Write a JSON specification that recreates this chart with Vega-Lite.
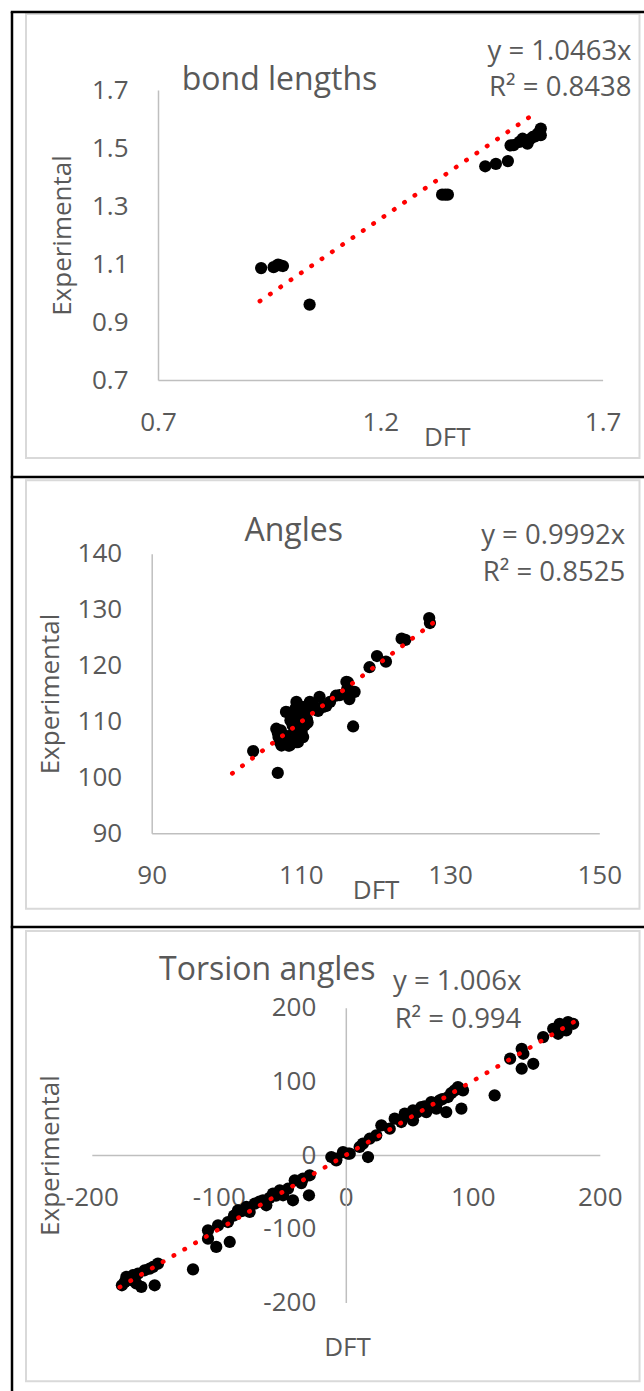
{
  "$schema": "https://vega.github.io/schema/vega-lite/v6.json",
  "background": "white",
  "padding": {"left": 9, "top": 10, "right": 0, "bottom": 0},
  "spacing": 0,
  "bounds": "flush",
  "config": {
    "font": "Open Sans",
    "view": {"stroke": null},
    "axis": {
      "domainColor": "#bfbfbf", "domainWidth": 1.5, "ticks": false, "grid": false,
      "labelColor": "#595959", "labelFontSize": 26, "labelFont": "Open Sans",
      "titleFont": "Open Sans", "titleFontSize": 26, "titleColor": "#595959", "titleFontWeight": "normal",
      "labelFlush": false, "labelOverlap": false, "labelBound": false, "labelPadding": 29
    },
    "title": {"font": "Open Sans", "fontSize": 32, "fontWeight": "normal", "color": "#595959", "anchor": "start", "frame": "group", "offset": 0, "baseline": "alphabetic"}
  },
  "datasets": {
    "p1": [
      {"dft": 0.932, "exp": 1.086}, {"dft": 0.960, "exp": 1.089}, {"dft": 0.970, "exp": 1.098},
      {"dft": 0.975, "exp": 1.095}, {"dft": 0.981, "exp": 1.093}, {"dft": 1.041, "exp": 0.960},
      {"dft": 1.339, "exp": 1.339}, {"dft": 1.346, "exp": 1.339}, {"dft": 1.352, "exp": 1.339},
      {"dft": 1.436, "exp": 1.437}, {"dft": 1.460, "exp": 1.445}, {"dft": 1.487, "exp": 1.455},
      {"dft": 1.493, "exp": 1.509}, {"dft": 1.500, "exp": 1.510}, {"dft": 1.513, "exp": 1.521},
      {"dft": 1.520, "exp": 1.532}, {"dft": 1.531, "exp": 1.515}, {"dft": 1.536, "exp": 1.530},
      {"dft": 1.543, "exp": 1.538}, {"dft": 1.548, "exp": 1.540}, {"dft": 1.554, "exp": 1.549},
      {"dft": 1.558, "exp": 1.555}, {"dft": 1.561, "exp": 1.567}, {"dft": 1.561, "exp": 1.544}
    ],
    "t1": [{"dft": 0.929, "exp": 0.972}, {"dft": 1.556, "exp": 1.628}],
    "p2": [
      {"dft": 103.6, "exp": 104.7}, {"dft": 106.9, "exp": 100.8}, {"dft": 117.0, "exp": 109.1},
      {"dft": 106.7, "exp": 108.7}, {"dft": 106.9, "exp": 108.0}, {"dft": 107.2, "exp": 106.3},
      {"dft": 107.4, "exp": 105.7}, {"dft": 107.8, "exp": 107.5}, {"dft": 108.0, "exp": 111.7},
      {"dft": 108.3, "exp": 105.7}, {"dft": 108.3, "exp": 111.6}, {"dft": 108.5, "exp": 105.7},
      {"dft": 108.9, "exp": 109.3}, {"dft": 109.0, "exp": 107.0}, {"dft": 109.4, "exp": 113.5},
      {"dft": 109.4, "exp": 106.3}, {"dft": 109.6, "exp": 106.3}, {"dft": 109.6, "exp": 111.4},
      {"dft": 109.8, "exp": 111.1}, {"dft": 110.1, "exp": 108.1}, {"dft": 110.5, "exp": 109.3},
      {"dft": 110.5, "exp": 111.1}, {"dft": 111.2, "exp": 113.5}, {"dft": 112.3, "exp": 111.9},
      {"dft": 112.5, "exp": 114.4}, {"dft": 113.0, "exp": 112.6}, {"dft": 113.4, "exp": 112.8},
      {"dft": 113.9, "exp": 113.5}, {"dft": 114.7, "exp": 114.6}, {"dft": 115.2, "exp": 114.7},
      {"dft": 116.1, "exp": 117.1}, {"dft": 116.3, "exp": 117.0}, {"dft": 116.5, "exp": 114.0},
      {"dft": 116.5, "exp": 114.7}, {"dft": 116.8, "exp": 115.2}, {"dft": 117.2, "exp": 115.3},
      {"dft": 119.2, "exp": 119.7}, {"dft": 120.2, "exp": 121.7}, {"dft": 121.4, "exp": 120.7},
      {"dft": 123.5, "exp": 124.8}, {"dft": 124.0, "exp": 124.6}, {"dft": 127.2, "exp": 128.5},
      {"dft": 127.3, "exp": 127.6}, {"dft": 107.6, "exp": 106.8}, {"dft": 108.8, "exp": 107.6},
      {"dft": 109.9, "exp": 110.0}, {"dft": 110.8, "exp": 110.4}, {"dft": 111.0, "exp": 112.2},
      {"dft": 110.2, "exp": 112.6}, {"dft": 108.6, "exp": 110.2}, {"dft": 107.3, "exp": 108.4},
      {"dft": 107.0, "exp": 107.2}, {"dft": 108.1, "exp": 106.6}, {"dft": 109.2, "exp": 108.3},
      {"dft": 110.3, "exp": 107.2}, {"dft": 109.3, "exp": 112.4}, {"dft": 111.7, "exp": 112.9},
      {"dft": 116.2, "exp": 115.8}, {"dft": 110.9, "exp": 109.8}
    ],
    "t2": [{"dft": 100.8, "exp": 100.72}, {"dft": 128.8, "exp": 128.70}],
    "p3": [
      {"dft": -176.3, "exp": -176.6}, {"dft": -172.8, "exp": -165.3}, {"dft": -174.0, "exp": -172.0},
      {"dft": -170.5, "exp": -168.0}, {"dft": -167.6, "exp": -163.0}, {"dft": -168.9, "exp": -169.8},
      {"dft": -165.0, "exp": -174.0}, {"dft": -161.0, "exp": -178.8}, {"dft": -163.6, "exp": -160.9},
      {"dft": -158.4, "exp": -156.3}, {"dft": -154.4, "exp": -154.1}, {"dft": -151.8, "exp": -151.8},
      {"dft": -150.5, "exp": -176.6}, {"dft": -147.9, "exp": -147.3}, {"dft": -120.3, "exp": -155.0},
      {"dft": -108.5, "exp": -102.0}, {"dft": -108.5, "exp": -113.4}, {"dft": -102.0, "exp": -124.6},
      {"dft": -100.6, "exp": -95.3}, {"dft": -92.8, "exp": -90.8}, {"dft": -91.4, "exp": -117.9},
      {"dft": -88.0, "exp": -82.0}, {"dft": -84.9, "exp": -74.9}, {"dft": -82.0, "exp": -76.0},
      {"dft": -78.3, "exp": -70.4}, {"dft": -75.7, "exp": -77.2}, {"dft": -71.7, "exp": -65.9},
      {"dft": -68.0, "exp": -63.0}, {"dft": -65.2, "exp": -61.3}, {"dft": -62.6, "exp": -68.1},
      {"dft": -60.0, "exp": -58.0}, {"dft": -57.3, "exp": -52.3}, {"dft": -55.0, "exp": -55.0},
      {"dft": -52.0, "exp": -47.7}, {"dft": -49.4, "exp": -54.5}, {"dft": -41.6, "exp": -61.3},
      {"dft": -45.5, "exp": -45.6}, {"dft": -40.2, "exp": -34.2}, {"dft": -35.0, "exp": -38.0},
      {"dft": -33.7, "exp": -32.0}, {"dft": -28.4, "exp": -27.4}, {"dft": -29.0, "exp": -54.5},
      {"dft": -11.4, "exp": -2.6}, {"dft": -7.5, "exp": -7.1}, {"dft": -7.5, "exp": -4.9},
      {"dft": -2.2, "exp": 4.2}, {"dft": 1.7, "exp": 1.9}, {"dft": 3.1, "exp": 1.9},
      {"dft": 10.9, "exp": 11.0}, {"dft": 13.5, "exp": 15.5}, {"dft": 17.5, "exp": -2.6},
      {"dft": 18.8, "exp": 22.2}, {"dft": 24.0, "exp": 26.8}, {"dft": 28.0, "exp": 40.4},
      {"dft": 34.6, "exp": 35.8}, {"dft": 38.5, "exp": 49.4}, {"dft": 43.7, "exp": 44.9},
      {"dft": 46.4, "exp": 56.2}, {"dft": 49.0, "exp": 53.0}, {"dft": 52.9, "exp": 47.2},
      {"dft": 52.9, "exp": 60.8}, {"dft": 56.0, "exp": 58.0}, {"dft": 59.4, "exp": 65.2},
      {"dft": 62.0, "exp": 66.0}, {"dft": 63.4, "exp": 58.4}, {"dft": 67.3, "exp": 72.0},
      {"dft": 70.0, "exp": 70.0}, {"dft": 71.3, "exp": 63.0}, {"dft": 73.9, "exp": 74.3},
      {"dft": 76.0, "exp": 76.0}, {"dft": 79.1, "exp": 58.4}, {"dft": 80.5, "exp": 78.8},
      {"dft": 83.0, "exp": 84.0}, {"dft": 85.7, "exp": 87.9}, {"dft": 88.3, "exp": 92.3},
      {"dft": 90.0, "exp": 90.0}, {"dft": 91.0, "exp": 63.0}, {"dft": 92.3, "exp": 87.9},
      {"dft": 117.2, "exp": 81.1}, {"dft": 129.4, "exp": 130.8}, {"dft": 138.5, "exp": 144.3},
      {"dft": 138.5, "exp": 117.2}, {"dft": 139.8, "exp": 137.5}, {"dft": 147.6, "exp": 123.9},
      {"dft": 155.4, "exp": 160.1}, {"dft": 163.3, "exp": 171.4}, {"dft": 167.2, "exp": 164.6},
      {"dft": 168.4, "exp": 178.2}, {"dft": 171.1, "exp": 176.0}, {"dft": 173.6, "exp": 169.2},
      {"dft": 175.0, "exp": 180.5}, {"dft": 179.0, "exp": 178.2}
    ],
    "t3": [{"dft": -178.0, "exp": -179.07}, {"dft": 179.6, "exp": 180.68}]
  },
  "vconcat": [
    {
      "width": 635, "height": 465,
      "title": {"text": "bond lengths", "dx": 169.7, "dy": 90.7},
      "layer": [
        {
          "data": {"values": [{}]},
          "mark": {"type": "rect", "fill": null, "stroke": "#d9d9d9", "strokeWidth": 2},
          "encoding": {
            "x": {"datum": 0.4031, "type": "quantitative"}, "x2": {"datum": 1.783},
            "y": {"datum": 1.9621, "type": "quantitative"}, "y2": {"datum": 0.431}
          }
        },
        {
          "data": {"values": [{}]},
          "mark": {"type": "rule", "color": "black", "strokeWidth": 2.5},
          "encoding": {
            "x": {"datum": 0.3688, "type": "quantitative"}, "x2": {"datum": 1.79986},
            "y": {"datum": 1.96897, "type": "quantitative"}
          }
        },
        {
          "data": {"values": [{}]},
          "mark": {"type": "rule", "color": "black", "strokeWidth": 2.5},
          "encoding": {
            "x": {"datum": 0.37161, "type": "quantitative"},
            "y": {"datum": 1.96897, "type": "quantitative"}, "y2": {"datum": 0.36552}
          }
        },
        {
          "data": {"name": "p1"},
          "mark": {"type": "point", "filled": true, "color": "black", "opacity": 1, "size": 150, "strokeWidth": 0},
          "encoding": {
            "x": {"field": "dft", "type": "quantitative",
              "scale": {"domain": [0.7, 1.7], "range": [146, 590.6], "nice": false, "zero": false},
              "axis": {"values": [0.7, 1.2, 1.7], "format": ".1f", "offset": -97, "title": "DFT",
                "titleX": 434.7, "titleY": 65, "titleBaseline": "alphabetic", "titleAlign": "center", "titleAngle": 0}},
            "y": {"field": "exp", "type": "quantitative",
              "scale": {"domain": [0.7, 1.7], "range": [368, 78], "nice": false, "zero": false},
              "axis": {"values": [0.7, 0.9, 1.1, 1.3, 1.5, 1.7], "format": ".1f", "offset": -146, "labelPadding": 30,
                "title": "Experimental", "titleX": -87.1, "titleBaseline": "alphabetic", "titleAlign": "center", "titleAngle": 270}}
          }
        },
        {
          "data": {"name": "t1"},
          "mark": {"type": "line", "color": "#ff0000", "strokeWidth": 4.5, "strokeDash": [0.5, 12], "strokeCap": "round"},
          "encoding": {
            "x": {"field": "dft", "type": "quantitative"},
            "y": {"field": "exp", "type": "quantitative"}
          }
        },
        {
          "data": {"values": [{}]},
          "mark": {"type": "text", "text": ["y = 1.0463x", "R² = 0.8438"], "align": "right", "baseline": "alphabetic",
            "fontSize": 27.5, "lineHeight": 36, "color": "#595959"},
          "encoding": {
            "x": {"datum": 1.765, "type": "quantitative"},
            "y": {"datum": 1.802, "type": "quantitative"}
          }
        }
      ]
    },
    {
      "width": 635, "height": 450,
      "title": {"text": "Angles", "dx": 232.5, "dy": 76},
      "layer": [
        {
          "data": {"values": [{}]},
          "mark": {"type": "rect", "fill": null, "stroke": "#d9d9d9", "strokeWidth": 2},
          "encoding": {
            "x": {"datum": 73.15, "type": "quantitative"}, "x2": {"datum": 155.39},
            "y": {"datum": 153.13, "type": "quantitative"}, "y2": {"datum": 76.52}
          }
        },
        {
          "data": {"values": [{}]},
          "mark": {"type": "rule", "color": "black", "strokeWidth": 2.5},
          "encoding": {
            "x": {"datum": 71.105, "type": "quantitative"}, "x2": {"datum": 156.394},
            "y": {"datum": 153.716, "type": "quantitative"}
          }
        },
        {
          "data": {"values": [{}]},
          "mark": {"type": "rule", "color": "black", "strokeWidth": 2.5},
          "encoding": {
            "x": {"datum": 71.273, "type": "quantitative"},
            "y": {"datum": 153.716, "type": "quantitative"}, "y2": {"datum": 73.244}
          }
        },
        {
          "data": {"name": "p2"},
          "mark": {"type": "point", "filled": true, "color": "black", "opacity": 1, "size": 150, "strokeWidth": 0},
          "encoding": {
            "x": {"field": "dft", "type": "quantitative",
              "scale": {"domain": [90, 150], "range": [139.7, 587.3], "nice": false, "zero": false},
              "axis": {"values": [90, 110, 130, 150], "offset": -93.7, "title": "DFT",
                "titleX": 363.6, "titleY": 65.4, "titleBaseline": "alphabetic", "titleAlign": "center", "titleAngle": 0}},
            "y": {"field": "exp", "type": "quantitative",
              "scale": {"domain": [90, 140], "range": [356.3, 76.7], "nice": false, "zero": false},
              "axis": {"values": [90, 100, 110, 120, 130, 140], "offset": -139.7, "labelPadding": 30,
                "title": "Experimental", "titleX": -93.1, "titleBaseline": "alphabetic", "titleAlign": "center", "titleAngle": 270}}
          }
        },
        {
          "data": {"name": "t2"},
          "mark": {"type": "line", "color": "#ff0000", "strokeWidth": 4.5, "strokeDash": [0.5, 12], "strokeCap": "round"},
          "encoding": {
            "x": {"field": "dft", "type": "quantitative"},
            "y": {"field": "exp", "type": "quantitative"}
          }
        },
        {
          "data": {"values": [{}]},
          "mark": {"type": "text", "text": ["y = 0.9992x", "R² = 0.8525"], "align": "right", "baseline": "alphabetic",
            "fontSize": 27.5, "lineHeight": 37, "color": "#595959"},
          "encoding": {
            "x": {"datum": 153.47, "type": "quantitative"},
            "y": {"datum": 141.66, "type": "quantitative"}
          }
        }
      ]
    },
    {
      "width": 635, "height": 466,
      "title": {"text": "Torsion angles", "dx": 147, "dy": 65.7},
      "layer": [
        {
          "data": {"values": [{}]},
          "mark": {"type": "rect", "fill": null, "stroke": "#d9d9d9", "strokeWidth": 2},
          "encoding": {
            "x": {"datum": -251.8, "type": "quantitative"}, "x2": {"datum": 231.3},
            "y": {"datum": 304.1, "type": "quantitative"}, "y2": {"datum": -306.9}
          }
        },
        {
          "data": {"values": [{}]},
          "mark": {"type": "rule", "color": "black", "strokeWidth": 2.5},
          "encoding": {
            "x": {"datum": -263.81, "type": "quantitative"}, "x2": {"datum": 237.17},
            "y": {"datum": 309.5, "type": "quantitative"}
          }
        },
        {
          "data": {"values": [{}]},
          "mark": {"type": "rule", "color": "black", "strokeWidth": 2.5},
          "encoding": {
            "x": {"datum": -262.83, "type": "quantitative"},
            "y": {"datum": 309.5, "type": "quantitative"}, "y2": {"datum": -322.8}
          }
        },
        {
          "data": {"name": "p3"},
          "mark": {"type": "point", "filled": true, "color": "black", "opacity": 1, "size": 150, "strokeWidth": 0},
          "encoding": {
            "x": {"field": "dft", "type": "quantitative",
              "scale": {"domain": [-200, 200], "range": [79.8, 587.8], "nice": false, "zero": false},
              "axis": {"values": [-200, -100, 0, 100, 200], "offset": -237.9, "labelExpr": "replace(datum.label, '\u2212', '-')",
                "title": "DFT", "titleX": 335, "titleY": 200.2, "titleBaseline": "alphabetic", "titleAlign": "center", "titleAngle": 0}},
            "y": {"field": "exp", "type": "quantitative",
              "scale": {"domain": [-200, 200], "range": [375.5, 80.7], "nice": false, "zero": false},
              "axis": {"values": [-200, -100, 0, 100, 200], "offset": -333.8, "labelPadding": 30, "labelExpr": "replace(datum.label, '\u2212', '-')",
                "title": "Experimental", "titleX": -287.2, "titleBaseline": "alphabetic", "titleAlign": "center", "titleAngle": 270}}
          }
        },
        {
          "data": {"name": "t3"},
          "mark": {"type": "line", "color": "#ff0000", "strokeWidth": 4.5, "strokeDash": [0.5, 12], "strokeCap": "round"},
          "encoding": {
            "x": {"field": "dft", "type": "quantitative"},
            "y": {"field": "exp", "type": "quantitative"}
          }
        },
        {
          "data": {"values": [{}]},
          "mark": {"type": "text", "text": ["y = 1.006x", "R² = 0.994"], "align": "right", "baseline": "alphabetic",
            "fontSize": 27.5, "lineHeight": 38, "color": "#595959"},
          "encoding": {
            "x": {"datum": 138.2, "type": "quantitative"},
            "y": {"datum": 224.4, "type": "quantitative"}
          }
        }
      ]
    }
  ]
}
